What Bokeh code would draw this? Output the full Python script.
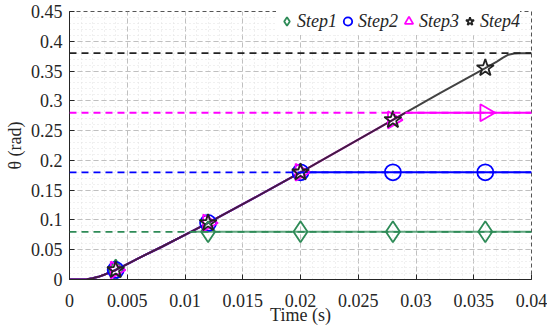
import numpy as np
from bokeh.plotting import figure
from bokeh.models import Range1d, FixedTicker, Span
from bokeh.embed import file_html
from bokeh.resources import INLINE

# ---------------- data ----------------
time_s = [0.0, 0.001, 0.0015, 0.002, 0.0025, 0.003, 0.0035, 0.004, 0.005, 0.006,
          0.008, 0.010, 0.012, 0.016, 0.020, 0.024, 0.028, 0.032, 0.036, 0.037,
          0.0375, 0.038, 0.0385, 0.039, 0.040]
theta_rad = [0.0, 0.0, 0.0005, 0.002, 0.0045, 0.008, 0.012, 0.016, 0.026, 0.036,
             0.055, 0.075, 0.095, 0.137, 0.180, 0.224, 0.268, 0.312, 0.355, 0.366,
             0.372, 0.3775, 0.3795, 0.380, 0.380]
step_names = ["Step1", "Step2", "Step3", "Step4"]
step_targets = [0.08, 0.18, 0.28, 0.38]
marker_times = [0.004, 0.012, 0.020, 0.028, 0.036]

x_ticks = [0, 0.005, 0.01, 0.015, 0.02, 0.025, 0.03, 0.035, 0.04]
x_tick_labels = ["0", "0.005", "0.01", "0.015", "0.02", "0.025", "0.03", "0.035", "0.04"]
y_ticks = [0, 0.05, 0.1, 0.15, 0.2, 0.25, 0.3, 0.35, 0.4, 0.45]
y_tick_labels = ["0", "0.05", "0.1", "0.15", "0.2", "0.25", "0.3", "0.35", "0.4", "0.45"]
x_min, x_max = 0.0, 0.04
y_min, y_max = 0.0, 0.45

# ---------------- styles ----------------
colors = ["#2E8B57", "#0000FF", "#FF00FF", "#222222"]
line_alphas = [0.75, 1.0, 1.0, 0.85]
markers = ["diamond", "circle", "triangle", "star"]
angles = [0.0, 0.0, -np.pi / 2, 0.0]
msizes = [21, 16, 17, 18]
FONT = "Liberation Serif"

W, H = 547, 328
B_LEFT, B_RIGHT, B_TOP, B_BOTTOM = 69, 16, 11, 49
FRAME_H = H - B_TOP - B_BOTTOM

t = np.array(time_s)
th = np.array(theta_rad)

p = figure(width=W, height=H, output_backend="svg", toolbar_location=None,
           x_range=Range1d(x_min, x_max), y_range=Range1d(y_min, y_max),
           min_border_left=B_LEFT, min_border_right=B_RIGHT, min_border_top=B_TOP,
           min_border_bottom=B_BOTTOM)

p.background_fill_color = "white"
p.border_fill_color = "white"
p.outline_line_color = "#555555"
p.outline_line_dash = "4 3"
p.outline_line_width = 1

# axes / ticks
p.xaxis.ticker = FixedTicker(ticks=x_ticks, minor_ticks=list(np.round(np.arange(0, 0.0401, 0.001), 4)))
p.yaxis.ticker = FixedTicker(ticks=y_ticks, minor_ticks=list(np.round(np.arange(0, 0.4501, 0.01), 3)))
p.xaxis.major_label_overrides = {v: s for v, s in zip(x_ticks, x_tick_labels)}
p.yaxis.major_label_overrides = {v: s for v, s in zip(y_ticks, y_tick_labels)}
for ax in (p.xaxis, p.yaxis):
    ax.major_label_text_font = FONT
    ax.major_label_text_font_size = "18px"
    ax.major_label_text_color = "#262626"
    ax.major_label_text_line_height = 1.0
    ax.axis_label_text_font = FONT
    ax.axis_label_text_font_size = "18px"
    ax.axis_label_text_font_style = "normal"
    ax.axis_label_text_color = "#262626"
    ax.axis_label_text_line_height = 1.0
    ax.axis_line_color = "#262626"
    ax.axis_line_width = 1
    ax.major_tick_in = 5
    ax.major_tick_out = 0
    ax.major_tick_line_color = "#262626"
    ax.minor_tick_line_color = None
p.xaxis.major_label_standoff = 10
p.xaxis.axis_label_standoff = -5
p.yaxis.major_label_standoff = 3
p.yaxis.axis_label_standoff = 3
p.xaxis.axis_label = "Time (s)"
p.yaxis.axis_label = "θ (rad)"

for g in (p.xgrid, p.ygrid):
    g.grid_line_color = "#c0c0c0"
    g.grid_line_dash = "5 3"
    g.grid_line_width = 1
    g.minor_grid_line_color = "#e0e0e0"
    g.minor_grid_line_dash = "1 3"
    g.minor_grid_line_width = 1

# response lines
for name, target, c, la in zip(step_names, step_targets, colors, line_alphas):
    if target >= th.max():
        xs, ys = list(t), list(th)
    else:
        tc = float(np.interp(target, th[1:], t[1:]))
        mask = th < target
        xs = list(t[mask]) + [tc, x_max]
        ys = list(th[mask]) + [target, target]
    p.line(xs, ys, line_color=c, line_width=2, line_alpha=la)

# dashed reference levels
for target, c in zip(step_targets, colors):
    p.add_layout(Span(location=target, dimension="width", line_color=c,
                      line_dash="7 5", line_width=1.8))

# markers
for name, target, c, mk, ang, ms in zip(step_names, step_targets, colors, markers, angles, msizes):
    my = np.minimum(np.interp(marker_times, t, th), target)
    p.scatter(marker_times, list(my), marker=mk, angle=ang, size=ms,
              line_color=c, line_width=1.8, fill_color=None, legend_label=name)

lg = p.legend[0]
LG_GH = 28
lg.orientation = "horizontal"
lg.label_text_font = FONT
lg.label_text_font_style = "italic"
lg.label_text_font_size = "18px"
lg.label_text_color = "#262626"
lg.glyph_width = 21
lg.glyph_height = LG_GH
lg.label_standoff = 0
lg.spacing = 0
lg.padding = 1
lg.margin = 0
lg.border_line_color = None
lg.background_fill_color = "white"
lg.background_fill_alpha = 1.0
# legend row sits just around the top edge of the axes, as in the reference
lg.location = (207, FRAME_H + 6 - (LG_GH + 2))

open("out.html", "w").write(file_html(p, INLINE))
